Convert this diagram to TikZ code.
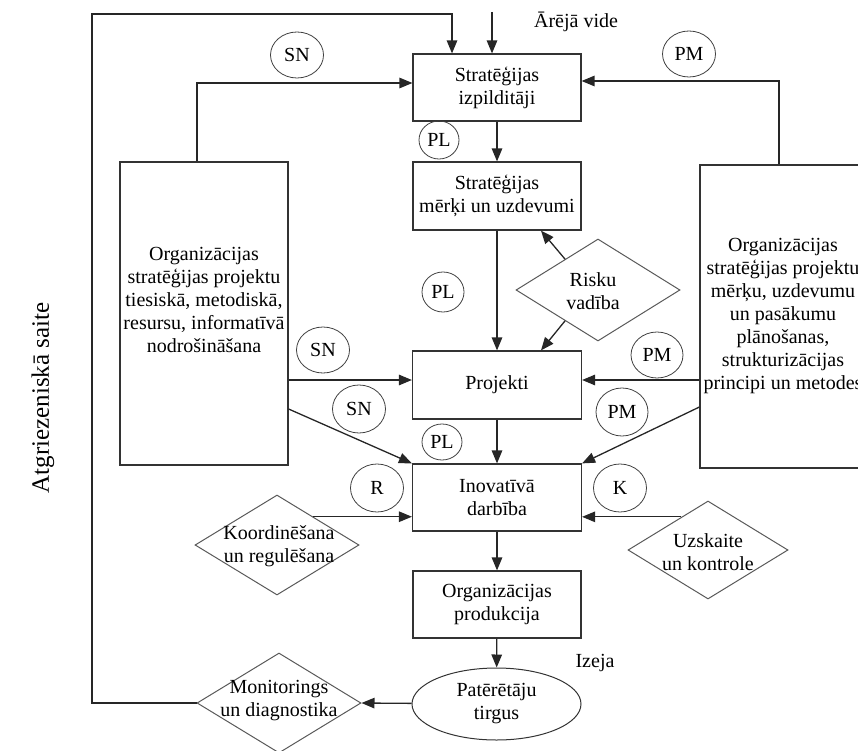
\documentclass[tikz,border=0pt]{standalone}
\usepackage{fontspec}
\setmainfont{Liberation Serif}
\usetikzlibrary{arrows.meta,shapes.geometric,calc}

\tikzset{
  txt/.style={font=\fontsize{20}{23}\selectfont, text=black},
  box/.style={txt, draw=black!80, line width=1.2pt, rectangle, align=center, inner sep=0pt},
  dia/.style={draw=black!65, line width=1pt, diamond, inner sep=0pt},
  tag/.style={txt, draw=black!75, line width=0.8pt, ellipse, inner sep=0pt},
  arr/.style={draw=black!85, line width=1.3pt, -{Triangle[length=13pt,width=10.5pt]}},
}

\begin{document}
\begin{tikzpicture}[x=1pt,y=-1pt]
\useasboundingbox (0,0) rectangle (858,751);
\clip (0,0) rectangle (858,751);

% main chain of boxes
\node[box, minimum width=168, minimum height=67] (izp) at (497,87.5) {Stratēģijas\\izpilditāji};
\node[box, minimum width=168, minimum height=68] (merki) at (497,196) {Stratēģijas\\mērķi un uzdevumi};
\node[box, minimum width=169, minimum height=68] (proj) at (497,385) {Projekti};
\node[box, minimum width=169, minimum height=67] (inov) at (497,497.5) {Inovatīvā\\darbība};
\node[box, minimum width=168, minimum height=67] (prod) at (497,604.5) {Organizācijas\\produkcija};
\node[txt, draw=black!80, line width=1pt, ellipse, minimum width=169, minimum height=72, inner sep=0pt, align=center] (tirgus) at (496.5,704) {Patērētāju\\tirgus};

% side boxes
\node[box, minimum width=168, minimum height=303] (lbox) at (204,313.5) {};
\node[txt, align=center] (ltext) at (204,300) {Organizācijas\\stratēģijas projektu\\tiesiskā, metodiskā,\\resursu, informatīvā\\nodrošināšana};
\node[box, minimum width=170, minimum height=303] (rbox) at (785,316.5) {};
\node[txt, align=center] (rtext) at (783,316) {Organizācijas\\stratēģijas projektu\\mērķu, uzdevumu\\un pasākumu\\plānošanas,\\strukturizācijas\\principi un metodes};

% diamonds
\node[dia, minimum width=164, minimum height=102] (risk) at (598,290) {};
\node[txt, align=center] (risktext) at (593,291) {Risku\\vadība};
\node[dia, minimum width=164, minimum height=100] (koord) at (277,545) {};
\node[txt, align=center] (koordtext) at (279,546) {Koordinēšana\\un regulēšana};
\node[dia, minimum width=160, minimum height=98] (uzsk) at (708,550) {};
\node[txt, align=center] (uzsktext) at (708,552) {Uzskaite\\un kontrole};
\node[dia, minimum width=164, minimum height=100] (mon) at (279,703) {};
\node[txt, align=center] (montext) at (279,701) {Monitorings\\un diagnostika};

% free labels
\node[txt] (vide) at (576,22) {Ārējā vide};
\node[txt] (izeja) at (595,663) {Izeja};
\node[txt, font=\fontsize{25}{28}\selectfont, rotate=90] (saite) at (43,398) {Atgriezeniskā saite};

% link tags
\node[tag, minimum width=53, minimum height=46] (sn1) at (297,55) {SN};
\node[tag, minimum width=53, minimum height=46] (pm1) at (689,54) {PM};
\node[tag, minimum width=40, minimum height=38] (pl1) at (439,140) {PL};
\node[tag, minimum width=42, minimum height=40] (pl2) at (443,292) {PL};
\node[tag, minimum width=53, minimum height=46] (sn2) at (323,350) {SN};
\node[tag, minimum width=53, minimum height=48] (sn3) at (359,409) {SN};
\node[tag, minimum width=52, minimum height=46] (pm2) at (657,355) {PM};
\node[tag, minimum width=52, minimum height=48] (pm3) at (622,412) {PM};
\node[tag, minimum width=40, minimum height=36] (pl3) at (442,442) {PL};
\node[tag, minimum width=53, minimum height=48] (r) at (377,488) {R};
\node[tag, minimum width=53, minimum height=48] (k) at (620,488) {K};

% feedback loop and environment input
\coordinate (fbl) at (92,14);
\coordinate (env) at (492,12);
\draw[arr] (mon.west) -| (fbl) -| ([xshift=-45pt]izp.north);
\draw[arr] (env) -- (env |- izp.north);

% inputs to the executors
\draw[arr] ([xshift=-7pt]lbox.north) |- ([yshift=4.5pt]izp.west);
\draw[arr] ([xshift=-6pt]rbox.north) |- ([yshift=6.5pt]izp.east);

% main vertical flow
\draw[arr] (izp) -- (merki);
\draw[arr] (merki) -- (proj);
\draw[arr] (proj) -- (inov);
\draw[arr] (inov) -- (prod);
\draw[arr] (prod) -- (tirgus);
\draw[arr] (tirgus) -- (mon.east);

% risk management
\draw[arr] ($(risk.west)!0.6!(risk.north)$) -- ([xshift=44pt]merki.south);
\draw[arr] ($(risk.west)!0.6!(risk.south)$) -- ([xshift=44pt]proj.north);

% side boxes to projects and innovation
\draw[arr] ([yshift=5pt]proj.west -| lbox.east) -- ([yshift=5pt]proj.west);
\draw[arr] ([yshift=-95.5pt]lbox.east) -- (inov.north west);
\draw[arr] ([yshift=5pt]proj.east -| rbox.west) -- ([yshift=5pt]proj.east);
\draw[arr] ([yshift=-90.5pt]rbox.west) -- (inov.north east);

% coordination and control
\coordinate (k1) at ($(koord.north)!0.44!(koord.east)$);
\coordinate (u1) at ($(uzsk.north)!0.33!(uzsk.west)$);
\draw[arr] (k1) -- (k1 -| inov.west);
\draw[arr] (u1) -- (u1 -| inov.east);
\end{tikzpicture}
\end{document}
